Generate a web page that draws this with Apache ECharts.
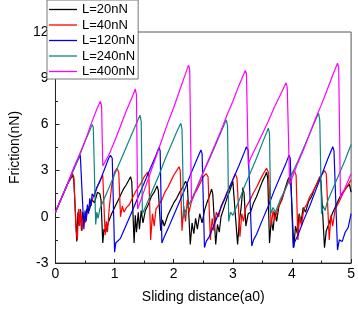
<!DOCTYPE html>
<html>
<head>
<meta charset="utf-8">
<script src="https://cdn.jsdelivr.net/npm/echarts@6/dist/echarts.min.js"></script>
<style>
  html, body { margin: 0; padding: 0; background: #fff; }
  #chart { width: 358px; height: 309px; }
</style>
</head>
<body>
<div id="chart"></div>
<script>
const seriesNames = ['L=20nN', 'L=40nN', 'L=120nN', 'L=240nN', 'L=400nN'];
const seriesColors = ['#000000', '#ff0000', '#0000ee', '#108585', '#ff00ff'];

// friction traces, [distance (a0), friction (nN)]
const l20 = [[0,0.3],[0.1,1.2],[0.2,2.1],[0.29,2.7],[0.31,2.4],[0.36,-1.6],[0.38,0.3],[0.40,-0.6],[0.42,0.5],[0.44,-0.9],[0.46,0.3],[0.49,-0.3],[0.53,0.5],[0.57,0.4],[0.62,1.1],[0.66,0.9],[0.71,1.6],[0.75,1.5],[0.77,1.1],[0.80,-1.7],[0.82,-0.8],[0.85,-1.0],[0.9,-0.3],[0.95,0.2],[1.0,0.6],[1.05,1.0],[1.1,1.4],[1.15,1.8],[1.2,2.1],[1.27,2.6],[1.29,2.3],[1.33,-1.7],[1.35,0.1],[1.37,-1.0],[1.40,0.3],[1.42,-0.8],[1.45,0.4],[1.48,-0.4],[1.52,0.4],[1.57,0.8],[1.62,1.3],[1.67,1.6],[1.72,2.0],[1.74,1.7],[1.78,-0.9],[1.81,-0.2],[1.84,-0.6],[1.9,0.1],[1.95,0.5],[2.0,0.9],[2.05,1.2],[2.1,1.6],[2.15,1.9],[2.2,2.3],[2.23,2.1],[2.28,-1.8],[2.31,-0.4],[2.34,-1.1],[2.37,-0.1],[2.40,-0.8],[2.44,0.2],[2.48,-0.4],[2.52,0.4],[2.56,0.9],[2.6,1.3],[2.64,1.8],[2.66,1.5],[2.71,-1.8],[2.74,-0.5],[2.77,-1.0],[2.8,0.0],[2.85,0.6],[2.9,1.2],[2.95,1.7],[3.0,2.3],[3.02,2.2],[3.08,-1.8],[3.11,-0.3],[3.14,0.6],[3.17,1.9],[3.19,1.5],[3.22,-0.6],[3.26,0.2],[3.3,0.3],[3.35,0.9],[3.4,1.3],[3.45,1.8],[3.5,2.3],[3.55,2.7],[3.57,2.9],[3.59,2.5],[3.62,-1.7],[3.65,-0.2],[3.68,-0.9],[3.71,0.3],[3.74,-0.3],[3.78,0.7],[3.83,1.1],[3.88,1.8],[3.93,2.4],[3.96,2.6],[3.98,2.3],[4.03,-2.0],[4.06,-0.6],[4.09,-1.1],[4.12,0.2],[4.15,-0.4],[4.19,0.6],[4.23,0.3],[4.28,1.0],[4.33,1.3],[4.38,1.8],[4.43,2.2],[4.47,2.6],[4.49,2.3],[4.55,-2.0],[4.58,-0.9],[4.62,-0.5],[4.68,0.2],[4.74,0.7],[4.8,1.2],[4.86,1.6],[4.92,1.9],[4.97,2.1],[5.0,1.6]];

const l40 = [[0,0.3],[0.1,1.2],[0.2,2.1],[0.27,2.6],[0.29,2.8],[0.31,2.6],[0.35,-0.9],[0.37,-1.5],[0.39,0.5],[0.41,-0.6],[0.43,0.4],[0.45,-0.9],[0.47,0.0],[0.50,-0.4],[0.55,0.5],[0.6,0.9],[0.65,1.4],[0.7,1.9],[0.75,2.3],[0.80,2.7],[0.82,2.6],[0.84,-1.2],[0.86,-0.3],[0.88,-1.0],[0.91,0.6],[0.95,2.0],[1.0,2.9],[1.04,3.15],[1.07,2.9],[1.10,0.0],[1.13,0.7],[1.16,0.3],[1.2,0.6],[1.25,0.8],[1.3,1.2],[1.35,1.6],[1.4,1.9],[1.45,2.2],[1.5,2.6],[1.56,2.9],[1.58,2.6],[1.61,-1.5],[1.64,0.2],[1.67,-0.6],[1.7,0.5],[1.75,0.8],[1.8,1.1],[1.85,1.6],[1.9,1.9],[1.95,2.3],[2.0,2.7],[2.05,3.0],[2.09,3.25],[2.11,3.0],[2.14,-0.9],[2.17,0.7],[2.2,-0.3],[2.23,1.1],[2.26,0.3],[2.3,1.0],[2.35,1.5],[2.4,1.8],[2.45,2.2],[2.5,2.6],[2.55,2.8],[2.58,2.6],[2.62,-1.5],[2.65,-0.1],[2.68,-0.9],[2.72,0.3],[2.76,0.0],[2.8,0.7],[2.85,1.1],[2.9,1.6],[2.95,2.0],[3.0,2.4],[3.04,2.8],[3.07,2.5],[3.12,-1.3],[3.15,0.2],[3.18,-0.3],[3.22,0.6],[3.28,1.0],[3.34,1.5],[3.4,1.9],[3.45,2.3],[3.5,2.7],[3.57,3.15],[3.60,2.9],[3.65,-0.6],[3.68,0.4],[3.71,-0.2],[3.75,0.4],[3.8,0.9],[3.85,1.4],[3.9,1.9],[3.95,2.4],[4.0,2.8],[4.04,3.0],[4.07,2.7],[4.1,-1.5],[4.13,0.1],[4.16,-0.6],[4.2,0.5],[4.25,0.8],[4.3,1.3],[4.35,1.6],[4.4,2.0],[4.45,2.4],[4.5,2.7],[4.55,3.0],[4.58,2.8],[4.63,-1.5],[4.66,0.1],[4.69,-0.6],[4.73,0.5],[4.8,1.0],[4.86,1.5],[4.92,1.9],[5.0,2.4]];

const l120 = [[0,0.3],[0.1,1.2],[0.2,2.1],[0.3,3.0],[0.38,3.7],[0.42,4.0],[0.44,3.9],[0.48,-0.8],[0.5,0.4],[0.52,-0.3],[0.54,0.8],[0.56,0.2],[0.58,1.2],[0.6,0.7],[0.62,1.5],[0.65,1.3],[0.7,1.9],[0.75,2.3],[0.8,2.8],[0.85,3.3],[0.9,3.8],[0.93,4.0],[0.96,3.8],[1.0,-2.3],[1.02,-1.7],[1.05,-1.8],[1.1,-1.4],[1.2,-0.5],[1.3,0.4],[1.4,1.3],[1.5,2.2],[1.6,3.1],[1.7,4.0],[1.75,4.5],[1.77,4.3],[1.8,-1.7],[1.83,-1.4],[1.9,-0.8],[2.0,0.1],[2.1,1.0],[2.2,1.9],[2.3,2.9],[2.4,3.8],[2.46,4.34],[2.48,4.1],[2.52,-2.0],[2.55,-1.6],[2.6,-1.3],[2.7,-0.35],[2.8,0.6],[2.9,1.5],[3.0,2.4],[3.1,3.3],[3.2,4.25],[3.23,4.55],[3.26,4.3],[3.32,-1.9],[3.35,-1.5],[3.4,-1.15],[3.5,-0.2],[3.6,0.7],[3.7,1.7],[3.8,2.6],[3.9,3.5],[3.95,4.0],[3.97,3.8],[4.02,-2.0],[4.05,-1.6],[4.1,-1.2],[4.2,-0.2],[4.3,0.7],[4.4,1.7],[4.5,2.7],[4.6,3.7],[4.69,4.55],[4.71,4.3],[4.77,-2.16],[4.8,-1.5],[4.85,-1.6],[4.9,-1.0],[4.95,-0.7],[5.0,0.2]];

const l240 = [[0,0.3],[0.1,1.2],[0.2,2.1],[0.3,3.0],[0.4,3.9],[0.5,4.9],[0.58,5.6],[0.62,6.0],[0.64,5.8],[0.68,-0.5],[0.70,0.3],[0.72,-0.1],[0.75,0.5],[0.85,1.4],[0.95,2.3],[1.05,3.2],[1.15,4.1],[1.25,5.0],[1.35,5.9],[1.43,6.6],[1.45,6.2],[1.47,0.2],[1.55,0.9],[1.65,1.8],[1.75,2.7],[1.85,3.7],[1.95,4.6],[2.05,5.5],[2.12,6.07],[2.14,5.7],[2.17,-0.1],[2.2,0.4],[2.3,1.1],[2.4,2.0],[2.5,2.9],[2.6,3.7],[2.7,4.6],[2.8,5.5],[2.89,6.3],[2.91,5.9],[2.93,-0.3],[2.96,0.3],[3.0,0.1],[3.1,1.0],[3.2,2.0],[3.3,2.9],[3.4,3.8],[3.5,4.8],[3.6,5.75],[3.62,5.4],[3.64,0.2],[3.68,0.6],[3.72,0.3],[3.8,1.1],[3.9,1.9],[4.0,2.8],[4.1,3.6],[4.2,4.5],[4.3,5.4],[4.4,6.3],[4.45,6.72],[4.47,6.3],[4.50,0.2],[4.53,0.7],[4.56,0.4],[4.6,1.0],[4.7,1.9],[4.8,2.8],[4.9,3.7],[5.0,4.7]];

const l400 = [[0,0.3],[0.1,1.2],[0.2,2.1],[0.3,3.1],[0.4,4.0],[0.5,4.9],[0.6,6.0],[0.7,7.0],[0.76,7.5],[0.78,7.2],[0.80,3.3],[0.82,3.3],[0.9,4.0],[1.0,4.9],[1.1,5.9],[1.2,6.9],[1.3,7.8],[1.35,8.3],[1.37,7.9],[1.39,0.5],[1.5,1.7],[1.6,2.8],[1.7,3.9],[1.8,5.0],[1.9,6.1],[2.0,7.1],[2.1,8.2],[2.2,9.3],[2.25,9.85],[2.27,9.6],[2.30,1.0],[2.4,1.9],[2.5,2.9],[2.6,3.8],[2.7,4.7],[2.8,5.6],[2.9,6.6],[3.0,7.5],[3.1,8.5],[3.21,9.5],[3.23,9.3],[3.26,3.4],[3.3,3.8],[3.4,4.6],[3.5,5.4],[3.6,6.2],[3.7,7.1],[3.8,7.9],[3.9,8.7],[3.92,8.4],[3.96,2.1],[4.0,2.5],[4.1,3.5],[4.2,4.4],[4.3,5.4],[4.4,6.4],[4.5,7.3],[4.6,8.3],[4.7,9.3],[4.77,9.97],[4.79,9.7],[4.82,1.2],[4.9,1.9],[5.0,2.8]];

const seriesData = [l20, l40, l120, l240, l400];

const xTicks = { min: 0, max: 5, step: 1 };
const yTicks = { min: -3, max: 12, step: 3 };

const font = 'Liberation Sans, Arial, sans-serif';
const chart = echarts.init(document.getElementById('chart'));

const axisCommon = {
  axisLine: { show: true, onZero: false, lineStyle: { color: '#222', width: 1 } },
  axisTick: { show: true, inside: true, length: 4, lineStyle: { color: '#222' } },
  minorTick: { show: true, splitNumber: 2, length: 2.5, lineStyle: { color: '#222' } },
  splitLine: { show: false },
  nameTextStyle: { color: '#000', fontSize: 14, fontFamily: font },
};

chart.setOption({
  animation: false,
  backgroundColor: '#fff',
  grid: { left: 40, right: 4, top: 32, bottom: 46, show: true, borderColor: '#555', borderWidth: 1 },
  legend: {
    orient: 'vertical',
    left: 47,
    top: 0,
    padding: [3, 3, 1, 2],
    itemWidth: 28,
    itemHeight: 14,
    itemGap: 2.5,
    icon: 'path://M0,0 L28,0 L28,1.3 L0,1.3 Z',
    backgroundColor: '#fff',
    borderColor: '#777',
    borderWidth: 1,
    borderRadius: 0,
    textStyle: { color: '#000', fontSize: 13, fontFamily: font },
    data: seriesNames,
  },
  xAxis: {
    type: 'value',
    min: xTicks.min,
    max: xTicks.max,
    interval: xTicks.step,
    name: 'Sliding distance(a0)',
    nameLocation: 'middle',
    nameGap: 27,
    axisLabel: { color: '#000', fontSize: 14, fontFamily: font, margin: 4 },
    ...axisCommon,
  },
  yAxis: {
    type: 'value',
    min: yTicks.min,
    max: yTicks.max,
    interval: yTicks.step,
    name: 'Friction(nN)',
    nameLocation: 'middle',
    nameGap: 30,
    axisLabel: { color: '#000', fontSize: 14, fontFamily: font, margin: 7 },
    ...axisCommon,
  },
  series: seriesNames.map((name, i) => ({
    name,
    type: 'line',
    data: seriesData[i],
    symbol: 'none',
    color: seriesColors[i],
    lineStyle: { color: seriesColors[i], width: 1.2 },
  })),
});
</script>
</body>
</html>
